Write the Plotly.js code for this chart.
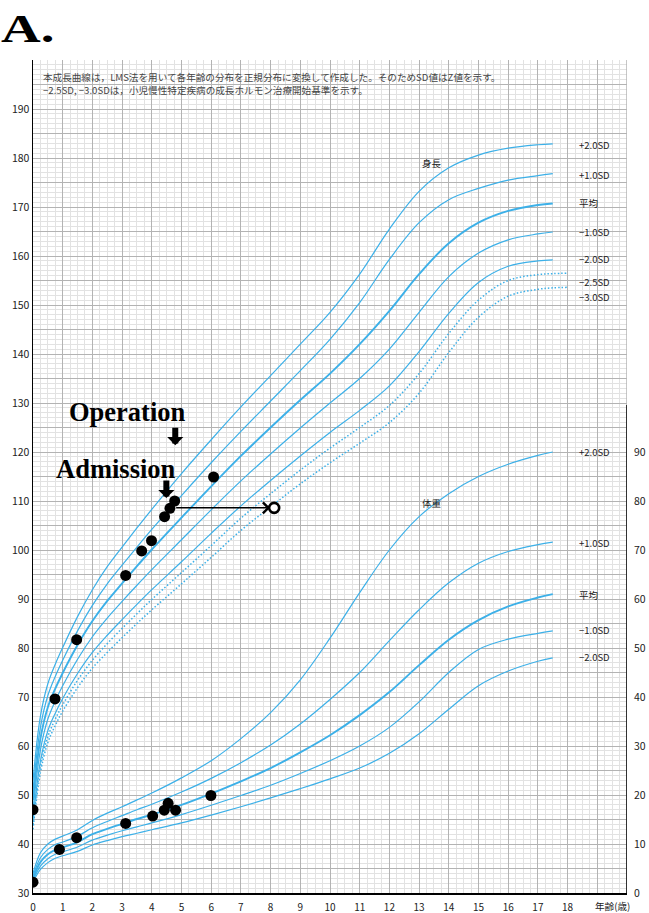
<!DOCTYPE html>
<html>
<head>
<meta charset="utf-8">
<script src="https://cdn.plot.ly/plotly-3.0.1.min.js"></script>
<style>html,body{margin:0;padding:0;background:#fff;}#chart{width:649px;height:913px;}</style>
</head>
<body>
<div id="chart"></div>
<script>
// ---------- reference curves: height (cm) ----------
const hAges = [0, 0.25, 0.5, 0.75, 1, 1.5, 2, 2.5, 3, 3.5, 4, 5, 6, 7, 8, 9, 10, 11, 12, 13, 14, 15, 16, 17, 17.5];
const hP2  = [53.0, 66.1, 72.7, 76.7, 80.1, 86.4, 91.9, 96.6, 100.6, 104.5, 108.3, 115.6, 122.5, 129.2, 135.6, 142.0, 148.5, 156.3, 165.5, 173.2, 178.0, 180.6, 182.0, 182.7, 182.9];
const hP1  = [51.0, 63.8, 70.3, 74.2, 77.5, 83.5, 88.7, 93.1, 96.9, 100.6, 104.2, 111.1, 117.8, 124.2, 130.4, 136.6, 143.0, 150.5, 159.3, 166.8, 171.5, 173.8, 175.5, 176.4, 176.8];
const hM   = [49.0, 61.5, 67.9, 71.7, 74.9, 80.6, 85.5, 89.6, 93.2, 96.7, 100.1, 106.6, 113.0, 119.2, 125.0, 130.6, 136.0, 142.0, 148.8, 156.3, 162.6, 166.8, 169.2, 170.4, 170.7];
const hM1  = [47.0, 59.2, 65.5, 69.2, 72.3, 77.7, 82.3, 86.1, 89.5, 92.8, 96.0, 102.1, 108.2, 114.1, 119.6, 124.9, 130.0, 135.0, 141.0, 148.5, 155.8, 160.6, 163.3, 164.5, 164.9];
const hM2  = [45.0, 56.9, 63.1, 66.7, 69.7, 74.8, 79.1, 82.6, 85.8, 88.9, 91.9, 97.6, 103.4, 109.0, 114.2, 119.2, 124.0, 128.5, 133.5, 140.5, 148.3, 154.6, 157.9, 159.0, 159.2];
const hDotAges = [0, 0.25, 0.5, 0.75, 1, 1.5, 2, 2.5, 3, 3.5, 4, 5, 6, 7, 8, 9, 10, 11, 12, 13, 14, 15, 16, 17, 17.5, 18];
const hM25 = [44.0, 55.8, 61.9, 65.5, 68.4, 73.4, 77.5, 80.9, 84.0, 87.0, 89.9, 95.4, 100.9, 106.5, 111.5, 116.3, 120.8, 125.0, 129.5, 136.0, 144.2, 151.0, 155.0, 156.2, 156.4, 156.5];
const hM3  = [43.0, 54.6, 60.7, 64.2, 67.1, 71.9, 75.9, 79.1, 82.1, 85.0, 87.8, 93.1, 98.5, 104.0, 108.8, 113.5, 117.8, 121.8, 126.0, 132.0, 140.3, 147.5, 151.8, 153.2, 153.5, 153.6];

// ---------- reference curves: weight (kg) ----------
const wAges = [0, 0.25, 0.5, 0.75, 1, 1.5, 2, 2.5, 3, 3.5, 4, 5, 6, 7, 8, 9, 10, 11, 12, 13, 14, 15, 16, 17, 17.5];
const wP2 = [4.0, 8.2, 10.0, 11.0, 11.6, 12.9, 14.8, 16.3, 17.6, 19.0, 20.4, 23.5, 27.0, 31.5, 36.8, 43.5, 52.0, 61.3, 70.0, 76.8, 81.5, 85.0, 87.5, 89.3, 90.0];
const wP1 = [3.5, 7.2, 8.9, 9.9, 10.4, 11.6, 13.3, 14.6, 15.8, 17.0, 18.1, 20.6, 23.4, 26.6, 30.2, 34.5, 39.5, 45.0, 51.5, 57.8, 63.3, 67.3, 69.7, 71.1, 71.6];
const wM  = [3.0, 6.3, 7.9, 8.8, 9.3, 10.4, 12.0, 13.1, 14.1, 15.1, 16.0, 18.0, 20.3, 22.8, 25.5, 28.7, 32.2, 36.3, 41.0, 46.5, 51.7, 55.7, 58.5, 60.3, 61.0];
const wM1 = [2.6, 5.5, 7.0, 7.9, 8.4, 9.4, 10.8, 11.8, 12.7, 13.5, 14.3, 16.0, 17.9, 19.9, 22.0, 24.4, 27.0, 30.0, 33.8, 39.0, 45.0, 49.7, 51.8, 53.0, 53.5];
const wM2 = [2.2, 4.8, 6.2, 7.1, 7.6, 8.5, 9.8, 10.7, 11.5, 12.2, 12.9, 14.3, 15.9, 17.6, 19.4, 21.3, 23.3, 25.5, 28.5, 32.5, 37.5, 42.3, 45.3, 47.3, 48.0];

// ---------- patient data ----------
const ptHeightAge = [0, 0.74, 1.47, 3.12, 3.66, 3.99, 4.43, 4.61, 4.77, 6.08];
const ptHeight    = [47.0, 69.6, 81.7, 94.8, 99.8, 101.9, 106.8, 108.5, 110.0, 114.9];
const ptWeightAge = [0, 0.89, 1.47, 3.12, 4.03, 4.42, 4.55, 4.80, 5.99];
const ptWeight    = [2.2, 8.9, 11.3, 14.2, 15.7, 16.9, 18.3, 16.9, 19.9];
const projFromAge = 4.77, projAge = 8.12, projHeight = 108.6;
const operationAge = 4.79, operationTipHeight = 121.4;
const admissionAge = 4.49, admissionTipHeight = 110.6;

// ---------- labels ----------
const xTickVals = [0,1,2,3,4,5,6,7,8,9,10,11,12,13,14,15,16,17,18,19,20];
const xTickText = ['0','1','2','3','4','5','6','7','8','9','10','11','12','13','14','15','16','17','18','',''];
const yTickVals = [];
const yTickText = [];
for (let v = 30; v <= 200; v += 5) { yTickVals.push(v); yTickText.push(v % 10 === 0 && v <= 190 ? String(v) : ''); }
const y2TickVals = [0,10,20,30,40,50,60,70,80,90];
const hLabels = ['+2.0SD','+1.0SD','平均','−1.0SD','−2.0SD','−2.5SD','−3.0SD'];
const hLabelY = [182.7, 176.6, 170.8, 164.9, 159.4, 154.7, 151.6];
const wLabels = ['+2.0SD','+1.0SD','平均','−1.0SD','−2.0SD'];
const wLabelY = [90.0, 71.4, 60.8, 53.7, 48.2];

const BLUE = '#3cb0e8';
const FONT = '"Noto Sans CJK JP", "Noto Sans", sans-serif';

function curve(x, y, axis, width, dash) {
  return {x: x, y: y, yaxis: axis, type: 'scatter', mode: 'lines', hoverinfo: 'skip',
          line: {color: BLUE, width: width, shape: 'spline', smoothing: 1.0, dash: dash || 'solid'}};
}

const traces = [
  curve(hAges, hP2, 'y', 1.2), curve(hAges, hP1, 'y', 1.2), curve(hAges, hM, 'y', 1.9),
  curve(hAges, hM1, 'y', 1.2), curve(hAges, hM2, 'y', 1.2),
  curve(hDotAges, hM25, 'y', 1.5, '1.5px,2px'), curve(hDotAges, hM3, 'y', 1.5, '1.5px,2px'),
  curve(wAges, wP2, 'y2', 1.2), curve(wAges, wP1, 'y2', 1.2), curve(wAges, wM, 'y2', 1.9),
  curve(wAges, wM1, 'y2', 1.2), curve(wAges, wM2, 'y2', 1.2),
  {x: ptHeightAge, y: ptHeight, yaxis: 'y', type: 'scatter', mode: 'markers', hoverinfo: 'skip',
   marker: {color: '#000', size: 11}},
  {x: ptWeightAge, y: ptWeight, yaxis: 'y2', type: 'scatter', mode: 'markers', hoverinfo: 'skip',
   marker: {color: '#000', size: 11}},
  {x: [projAge], y: [projHeight], yaxis: 'y', type: 'scatter', mode: 'markers', hoverinfo: 'skip',
   marker: {color: '#fff', size: 10, line: {color: '#000', width: 2.6}}}
];

const annotations = [];
function ann(o) { annotations.push(Object.assign({showarrow: false, font: {family: FONT, size: 9.5, color: '#222'}}, o)); }
hLabels.forEach((t, i) => ann({x: 18.3, y: hLabelY[i], xref: 'x', yref: 'y', text: t, xanchor: 'left'}));
wLabels.forEach((t, i) => ann({x: 18.3, y: wLabelY[i], xref: 'x', yref: 'y2', text: t, xanchor: 'left'}));
ann({x: 13.43, y: 179.0, xref: 'x', yref: 'y', text: '身長'});
ann({x: 13.43, y: 79.6, xref: 'x', yref: 'y2', text: '体重'});
ann({x: 0.27, y: 196.6, xref: 'x', yref: 'y', xanchor: 'left',
     text: '本成長曲線は，LMS法を用いて各年齢の分布を正規分布に変換して作成した。そのためSD値はZ値を示す。',
     font: {family: FONT, size: 9.6, color: '#444'}});
ann({x: 0.27, y: 193.9, xref: 'x', yref: 'y', xanchor: 'left',
     text: '−2.5SD, −3.0SDは，小児慢性特定疾病の成長ホルモン治療開始基準を示す。',
     font: {family: FONT, size: 9.6, color: '#444'}});
ann({x: -0.5, y: 198.6, xref: 'x', yref: 'y', text: '身長'});
ann({x: -0.5, y: 196.0, xref: 'x', yref: 'y', text: '(cm)'});
ann({x: 20.32, y: 98.6, xref: 'x', yref: 'y2', text: '体重'});
ann({x: 20.32, y: 95.9, xref: 'x', yref: 'y2', text: '(kg)'});
ann({x: 19.5, y: 30, xref: 'x', yref: 'y', yanchor: 'top', yshift: -4, text: '年齢(歳)', font: {family: FONT, size: 9.6, color: '#222'}});
ann({x: -0.057, y: 1.0385, xref: 'paper', yref: 'paper', xanchor: 'left', yanchor: 'middle', text: '<b>A.</b>',
     font: {family: '"Liberation Serif", "Times New Roman", serif', size: 41, color: '#000'}});
ann({x: 3.18, y: 128.1, xref: 'x', yref: 'y', text: '<b>Operation</b>',
     font: {family: '"Liberation Serif", "Times New Roman", serif', size: 26.5, color: '#000'}});
ann({x: 2.78, y: 116.6, xref: 'x', yref: 'y', text: '<b>Admission</b>',
     font: {family: '"Liberation Serif", "Times New Roman", serif', size: 26.5, color: '#000'}});
// block arrows
annotations.push({x: operationAge, y: operationTipHeight, xref: 'x', yref: 'y', ax: 0, ay: -19, text: '',
  showarrow: true, arrowhead: 1, arrowwidth: 6, arrowsize: 0.45, arrowcolor: '#000'});
annotations.push({x: admissionAge, y: admissionTipHeight, xref: 'x', yref: 'y', ax: 0, ay: -19, text: '',
  showarrow: true, arrowhead: 1, arrowwidth: 6, arrowsize: 0.45, arrowcolor: '#000'});
// projection arrow
annotations.push({x: projAge - 0.14, y: projHeight, xref: 'x', yref: 'y', ax: projFromAge, ay: projHeight,
  axref: 'x', ayref: 'y', text: '', showarrow: true, arrowhead: 4, arrowwidth: 1.5, arrowsize: 1.4, arrowcolor: '#000'});

const shapes = [
  {type: 'line', xref: 'x', yref: 'y', x0: 20, x1: 20, y0: 30, y1: 200, line: {color: '#b5b5b5', width: 1.5}},
  {type: 'line', xref: 'x', yref: 'y2', x0: 20, x1: 20, y0: 0, y1: 99.6, line: {color: '#000', width: 1.5}}
];

const layout = {
  width: 649, height: 913,
  margin: {l: 33, r: 22, t: 60, b: 20, pad: 0},
  paper_bgcolor: '#fff', plot_bgcolor: '#fff',
  showlegend: false,
  xaxis: {range: [0, 20], tickmode: 'array', tickvals: xTickVals, ticktext: xTickText,
          showgrid: true, gridcolor: '#b3b3b3', gridwidth: 1, zeroline: false,
          showline: true, linecolor: '#000', linewidth: 1.5, ticks: '', ticklen: 0, ticklabelstandoff: 4,
          tickfont: {family: FONT, size: 10, color: '#222'},
          minor: {tickmode: 'linear', tick0: 0, dtick: 0.25, showgrid: true, gridcolor: '#e2e2e2', gridwidth: 1, ticks: ''}},
  yaxis: {range: [30, 200], tickmode: 'array', tickvals: yTickVals, ticktext: yTickText,
          showgrid: true, gridcolor: '#b3b3b3', gridwidth: 1, zeroline: false,
          showline: true, linecolor: '#000', linewidth: 1.5, ticks: '', ticklen: 0,
          tickfont: {family: FONT, size: 10.5, color: '#222'},
          minor: {tickmode: 'linear', tick0: 30, dtick: 1, showgrid: true, gridcolor: '#e2e2e2', gridwidth: 1, ticks: ''}},
  yaxis2: {range: [0, 170], overlaying: 'y', side: 'right', tickmode: 'array', tickvals: y2TickVals,
           showgrid: false, zeroline: false, showline: false, ticks: '', ticklen: 0, ticklabelstandoff: 6,
           tickfont: {family: FONT, size: 10.5, color: '#222'}},
  annotations: annotations,
  shapes: shapes
};

Plotly.newPlot('chart', traces, layout, {staticPlot: true, displayModeBar: false}).then(function () {
  // the reference's "A." is set in a wide (horizontally stretched) bold serif
  document.querySelectorAll('.annotation-text').forEach(function (t) {
    if (t.textContent === 'A.') {
      const left = t.getBBox().x;
      t.setAttribute('transform', 'translate(' + left + ',0) scale(1.34,1) translate(' + (-left) + ',0)');
    }
  });
});
</script>
</body>
</html>
